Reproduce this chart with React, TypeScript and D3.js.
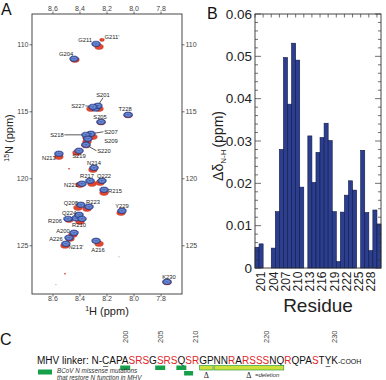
import React, { useEffect, useRef } from 'react';
import * as d3 from 'd3';

const W = 386;
const H = 380;
const FONT = '"Liberation Sans", Arial, sans-serif';

// ---- panel A: 1H-15N HSQC peaks (free = blue, perturbed = red), ppm ----
const peakLabels = ['G211', 'G204', 'S201', 'S227', 'T228', 'S205', 'S207', 'S218', 'S209', 'S220', 'S219', 'N213', 'N214', 'R217', 'Q222', 'N221', 'R215', 'Q208', 'R223', 'Y229', 'Q224', 'R206', 'R210', 'A200', 'A226', "N213'", 'A216', 'K230'];
const freeH = [8.281, 8.444, 8.267, 8.304, 8.044, 8.244, 8.319, 8.356, 8.341, 8.356, 8.407, 8.556, 8.296, 8.326, 8.237, 8.385, 8.222, 8.393, 8.333, 8.089, 8.407, 8.489, 8.385, 8.444, 8.481, 8.504, 8.281, 7.756];
const freeN = [109.93, 111.04, 114.55, 114.63, 115.22, 115.75, 116.64, 116.72, 117.01, 117.46, 117.91, 118.13, 119.18, 120.15, 120.15, 120.37, 120.82, 121.94, 122.09, 122.39, 122.69, 122.99, 122.99, 124.03, 124.4, 124.85, 124.63, 127.69];
const boundH = [8.259, 8.437, 8.259, 8.319, 8.044, 8.244, 8.304, 8.348, 8.348, 8.356, 8.422, 8.556, 8.304, 8.311, 8.252, 8.4, 8.222, 8.415, 8.348, 8.096, 8.415, 8.481, 8.4, 8.452, 8.474, 8.511, 8.259, 7.756];
const boundN = [110.15, 111.12, 114.78, 114.78, 115.25, 115.78, 116.87, 116.94, 117.24, 117.5, 118.06, 118.36, 119.33, 120.37, 120.3, 120.45, 121.04, 122.16, 122.24, 122.54, 122.84, 123.06, 123.21, 124.18, 124.48, 124.99, 124.85, 127.72];

// extra, weaker signals
const extraPeakH = [8.43, 8.285];
const extraPeakN = [122.95, 114.75];
const minorLabels = ["G211'"];
const minorH = [8.237];
const minorN = [109.63];
const strayRedH = [8.481, 8.511];
const strayRedN = [119.25, 127.09];
const strayGrayH = [8.111, 8.578];
const strayGrayN = [125.82, 127.9];

const hTicks = [8.6, 8.4, 8.2, 8.0, 7.8];
const nTicks = [110, 115, 120, 125];

// label placement around each peak: [dx, dy, leader line]
const labelPlacement: Record<string, [number, number, boolean?]> = {
  G211: [-11, -4], G204: [-8, -5], S201: [5, -11, true], S227: [-15, -1, true], T228: [-3, -6],
  S205: [-1, -4.5], S207: [20, -2, true], S218: [-29, 0, true], S209: [23, 2], S220: [18, 6, true],
  S219: [0, 5], N213: [-10, 4], N214: [0, -5], R217: [-3, -5], Q222: [2, -5], N221: [-11, 1],
  R215: [11, 1], Q208: [-10, -1.5], R223: [4, -4.5], Y229: [0, -5], Q224: [-10, -1.5],
  R206: [-13, 2], R210: [-3, 6], A200: [-11, -1.5], A226: [-13, 1], "N213'": [10, 3],
  A216: [2, 9], K230: [2, -5], "G211'": [10, -3],
};

// ---- panel B: combined amide chemical shift perturbation per residue ----
const residues = [200, 201, 202, 203, 204, 205, 206, 207, 208, 209, 210, 211, 212, 213, 214, 215, 216, 217, 218, 219, 220, 221, 222, 223, 224, 225, 226, 227, 228, 229, 230];
const shifts: (number | null)[] = [0.0049, 0.0057, null, null, 0.0047, 0.0133, 0.028, 0.0497, 0.0387, 0.0531, 0.0491, 0.0191, null, 0.0312, 0.0202, 0.0273, 0.0308, 0.0342, 0.0301, 0.0133, 0.0015, 0.0132, 0.0172, 0.0206, 0.0184, null, 0.0278, 0.0131, 0.0041, 0.0137, 0.0104];
const residueTicks = [201, 204, 207, 210, 213, 216, 219, 222, 225, 228];
const shiftTicks = [0, 0.01, 0.02, 0.03, 0.04, 0.05, 0.06];

// ---- panel C: linker sequence ----
const linkerSeq = 'CAPASRSGSRSQSRGPNNRARSSSNQRQPASTYK';
const linkerStart = 197;
const redResidues = [201, 202, 203, 205, 206, 207, 209, 210, 215, 217, 218, 219, 220, 223, 227];
const numberedResidues = [200, 205, 210, 220, 230];
const rescueSites = [200, 205, 208];
const rescueSitesLower = [209];
const deletionSpans: [number, number][] = [[211, 212], [213, 222]];
const underlinedResidues = [197, 229];

const aLeft = 32, aRight = 182, aTop = 14, aBottom = 294;
const bLeft = 255, bRight = 381, bTop = 14, bBottom = 268;

const xA = d3.scaleLinear().domain([8.755, 7.645]).range([aLeft, aRight]);
const yA = d3.scaleLinear().domain([107.7, 128.6]).range([aTop, aBottom]);
const xB = d3.scaleBand<number>().domain(residues).range([bLeft, bRight]).padding(0);
const yB = d3.scaleLinear().domain([0, 0.06]).range([bBottom, bTop]);

const fmtH = d3.format('.1f');

function Peak({ x, y, r = 1 }: { x: number; y: number; r?: number }) {
  return (
    <g>
      <ellipse cx={x} cy={y} rx={4.3 * r} ry={2.7 * r} fill="#4767b9" stroke="#1c2a70" strokeWidth={0.6} />
      <ellipse cx={x} cy={y} rx={2.3 * r} ry={1.3 * r} fill="none" stroke="#a4bae6" strokeWidth={0.5} />
    </g>
  );
}

function PanelC() {
  const ref = useRef<SVGGElement>(null);

  useEffect(() => {
    const g = d3.select(ref.current);
    g.selectAll('*').remove();

    const prefix = 'MHV linker: N-';
    const text = g.append('text')
      .attr('x', 37)
      .attr('y', 364)
      .attr('font-family', FONT)
      .attr('font-size', 10)
      .attr('fill', '#111');
    text.append('tspan').text(prefix);
    linkerSeq.split('').forEach((ch, i) => {
      const res = linkerStart + i;
      text.append('tspan')
        .attr('fill', redResidues.includes(res) ? '#e0262b' : '#111')
        .text(ch);
    });
    text.append('tspan').attr('font-size', 7).text('-COOH');

    const node = text.node() as SVGTextElement;
    const box = (res: number) => {
      const ext = node.getExtentOfChar(prefix.length + res - linkerStart);
      return { x: ext.x, w: ext.width, c: ext.x + ext.width / 2 };
    };

    // residue numbers above the sequence
    numberedResidues.forEach((res) => {
      g.append('text')
        .attr('transform', `translate(${box(res).c},343) rotate(-90)`)
        .attr('dy', '0.35em')
        .attr('font-family', FONT)
        .attr('font-size', 7.5)
        .attr('fill', '#444')
        .text(res);
    });

    underlinedResidues.forEach((res) => {
      const b = box(res);
      g.append('line')
        .attr('x1', b.x + 1).attr('x2', b.x + b.w - 1)
        .attr('y1', 366.5).attr('y2', 366.5)
        .attr('stroke', '#111').attr('stroke-width', 0.6);
    });

    rescueSites.forEach((res) => {
      const b = box(res);
      g.append('rect')
        .attr('x', b.c - 5).attr('y', 365.5).attr('width', 10).attr('height', 4.5)
        .attr('fill', '#17a04a');
    });
    rescueSitesLower.forEach((res) => {
      const b = box(res);
      g.append('rect')
        .attr('x', b.c - 4.5).attr('y', 371).attr('width', 9).attr('height', 4.5)
        .attr('fill', '#17a04a');
    });

    deletionSpans.forEach(([s, e], i) => {
      const b0 = box(s);
      const b1 = box(e);
      const x0 = b0.x + 0.5;
      const x1 = b1.x + b1.w - 0.5;
      g.append('rect')
        .attr('x', x0).attr('y', 365.5).attr('width', x1 - x0).attr('height', 4.5)
        .attr('fill', '#cfe03a').attr('stroke', '#2f9e4a').attr('stroke-width', 0.7);
      const cx = (x0 + x1) / 2;
      g.append('text')
        .attr('x', cx).attr('y', 378)
        .attr('text-anchor', 'middle')
        .attr('font-family', '"Liberation Serif", serif')
        .attr('font-size', 8)
        .attr('fill', '#222')
        .text('Δ');
      if (i === deletionSpans.length - 1) {
        g.append('text')
          .attr('x', cx + 6).attr('y', 377)
          .attr('font-family', FONT)
          .attr('font-style', 'italic')
          .attr('font-size', 6)
          .attr('fill', '#333')
          .text('=deletion');
      }
    });

    // legend
    g.append('rect').attr('x', 38).attr('y', 369.5).attr('width', 14).attr('height', 5).attr('fill', '#17a04a');
    ['BCoV N missense mutations', 'that restore N function in MHV'].forEach((line, i) => {
      g.append('text')
        .attr('x', 57).attr('y', 373 + i * 6.8)
        .attr('font-family', FONT)
        .attr('font-style', 'italic')
        .attr('font-size', 6.3)
        .attr('fill', '#333')
        .text(line);
    });
  }, []);

  return <g ref={ref} />;
}

export default function App() {
  const bw = xB.bandwidth();

  const labelAt = (lab: string, px: number, py: number) => {
    const [dx, dy] = labelPlacement[lab] ?? [0, -5];
    return { lx: px + dx, ly: py + dy };
  };

  const leader = (lab: string, px: number, py: number) => {
    const p = labelPlacement[lab];
    if (!p || !p[2]) return null;
    const [dx, dy] = p;
    const lx = px + dx;
    const ly = py + dy;
    const end = Math.abs(dy) > Math.abs(dx)
      ? [lx, ly + (dy < 0 ? 3 : -3)]
      : [lx - Math.sign(dx) * 7.5, ly];
    return <line key={`ld-${lab}`} x1={px} y1={py} x2={end[0]} y2={end[1]} stroke="#111" strokeWidth={0.7} />;
  };

  const minorTicks = d3.range(0, 0.0601, 0.002);
  const topTicks = residues.filter((r, i) => i % 2 === 0);

  return (
    <svg width={W} height={H} style={{ position: 'absolute', left: 0, top: 0, background: '#fff' }} fontFamily={FONT}>
      {/* ---------- A ---------- */}
      <text x={1} y={15} fontSize={16} fill="#111">A</text>
      <rect x={aLeft} y={aTop} width={aRight - aLeft} height={aBottom - aTop} fill="none" stroke="#333" strokeWidth={0.9} />
      {hTicks.map((t) => (
        <g key={`h${t}`}>
          <line x1={xA(t)} x2={xA(t)} y1={aTop} y2={aTop - 2.5} stroke="#333" strokeWidth={0.7} />
          <line x1={xA(t)} x2={xA(t)} y1={aBottom} y2={aBottom + 2.5} stroke="#333" strokeWidth={0.7} />
          <text x={xA(t)} y={10.5} fontSize={7} textAnchor="middle" fill="#444">{fmtH(t)}</text>
          <text x={xA(t)} y={301} fontSize={7} textAnchor="middle" fill="#444">{fmtH(t)}</text>
        </g>
      ))}
      {nTicks.map((t) => (
        <g key={`n${t}`}>
          <line x1={aLeft} x2={aLeft - 2.5} y1={yA(t)} y2={yA(t)} stroke="#333" strokeWidth={0.7} />
          <line x1={aRight} x2={aRight + 2.5} y1={yA(t)} y2={yA(t)} stroke="#333" strokeWidth={0.7} />
          <text x={28.5} y={yA(t) + 2.5} fontSize={7} textAnchor="end" fill="#444">{t}</text>
          <text x={185.5} y={yA(t) + 2.5} fontSize={7} textAnchor="start" fill="#444">{t}</text>
        </g>
      ))}
      <text transform="translate(13,138) rotate(-90)" textAnchor="middle" fontSize={11} fill="#222">
        <tspan fontSize={7} dy={-4}>15</tspan>
        <tspan dy={4}>N  (ppm)</tspan>
      </text>
      <text x={107} y={315} textAnchor="middle" fontSize={11} fill="#222">
        <tspan fontSize={7} dy={-4}>1</tspan>
        <tspan dy={4}>H  (ppm)</tspan>
      </text>

      {/* stray signals */}
      {strayRedH.map((h, i) => (
        <ellipse key={`sr${i}`} cx={xA(h)} cy={yA(strayRedN[i])} rx={1} ry={0.7} fill="#e4472f" />
      ))}
      {strayGrayH.map((h, i) => (
        <ellipse key={`sg${i}`} cx={xA(h)} cy={yA(strayGrayN[i])} rx={0.9} ry={0.6} fill="#bbb" />
      ))}

      {/* leader lines */}
      {peakLabels.map((lab, i) => leader(lab, xA(freeH[i]), yA(freeN[i])))}

      {/* perturbed (red) peaks below the free (blue) peaks */}
      {peakLabels.map((lab, i) => (
        <ellipse key={`r-${lab}`} cx={xA(boundH[i])} cy={yA(boundN[i])} rx={4.3} ry={2.7} fill="#e4472f" stroke="#b3261a" strokeWidth={0.4} />
      ))}
      {minorH.map((h, i) => (
        <ellipse key={`mr${i}`} cx={xA(h)} cy={yA(minorN[i])} rx={2.4} ry={1.6} fill="#e4472f" stroke="#b3261a" strokeWidth={0.4} />
      ))}
      {extraPeakH.map((h, i) => (
        <Peak key={`x${i}`} x={xA(h)} y={yA(extraPeakN[i])} />
      ))}
      {peakLabels.map((lab, i) => (
        <Peak key={`b-${lab}`} x={xA(freeH[i])} y={yA(freeN[i])} />
      ))}

      {/* peak labels */}
      {peakLabels.map((lab, i) => {
        const { lx, ly } = labelAt(lab, xA(freeH[i]), yA(freeN[i]));
        return <text key={`t-${lab}`} x={lx} y={ly + 2} fontSize={5.8} textAnchor="middle" fill="#222">{lab}</text>;
      })}
      {minorLabels.map((lab, i) => {
        const { lx, ly } = labelAt(lab, xA(minorH[i]), yA(minorN[i]));
        return <text key={`mt-${lab}`} x={lx} y={ly + 2} fontSize={5.8} textAnchor="middle" fill="#222">{lab}</text>;
      })}

      {/* ---------- B ---------- */}
      <text x={207} y={19} fontSize={16} fill="#111">B</text>
      {residues.map((r, i) => {
        const v = shifts[i];
        if (v == null) return null;
        return (
          <rect key={`bar${r}`} x={xB(r)} y={yB(v)} width={bw} height={yB(0) - yB(v)} fill="#2c3f8f" stroke="#0f1848" strokeWidth={0.6} />
        );
      })}
      <rect x={bLeft} y={bTop} width={bRight - bLeft} height={bBottom - bTop} fill="none" stroke="#333" strokeWidth={0.9} />
      {minorTicks.map((t, i) => {
        const major = i % 5 === 0;
        const len = major ? 6 : 3;
        return (
          <g key={`yt${i}`}>
            <line x1={bLeft} x2={bLeft + len} y1={yB(t)} y2={yB(t)} stroke="#333" strokeWidth={0.7} />
            <line x1={bRight} x2={bRight - len} y1={yB(t)} y2={yB(t)} stroke="#333" strokeWidth={0.7} />
          </g>
        );
      })}
      {topTicks.map((r) => (
        <line key={`xt${r}`} x1={xB(r)} x2={xB(r)} y1={bTop} y2={bTop + 3.5} stroke="#333" strokeWidth={0.7} />
      ))}
      {shiftTicks.map((t) => (
        <text key={`yl${t}`} x={252} y={yB(t) + 4.8} fontSize={13.5} textAnchor="end" fill="#222">
          {t === 0 ? '0' : t.toFixed(2)}
        </text>
      ))}
      {residueTicks.map((r) => (
        <text key={`xl${r}`} transform={`translate(${(xB(r) ?? 0) + bw / 2},271.5) rotate(-90)`} dy="0.36em" fontSize={12} textAnchor="end" fill="#222">
          {r}
        </text>
      ))}
      <text transform="translate(223,146) rotate(-90)" textAnchor="middle" fontSize={14} fill="#222">
        <tspan>Δδ</tspan>
        <tspan fontSize={8} dy={3}>N-H</tspan>
        <tspan dy={-3} dx={2}>(ppm)</tspan>
      </text>
      <text x={318} y={312} textAnchor="middle" fontSize={19} fill="#222">Residue</text>

      {/* ---------- C ---------- */}
      <text x={0} y={345} fontSize={16} fill="#111">C</text>
      <PanelC />
    </svg>
  );
}
